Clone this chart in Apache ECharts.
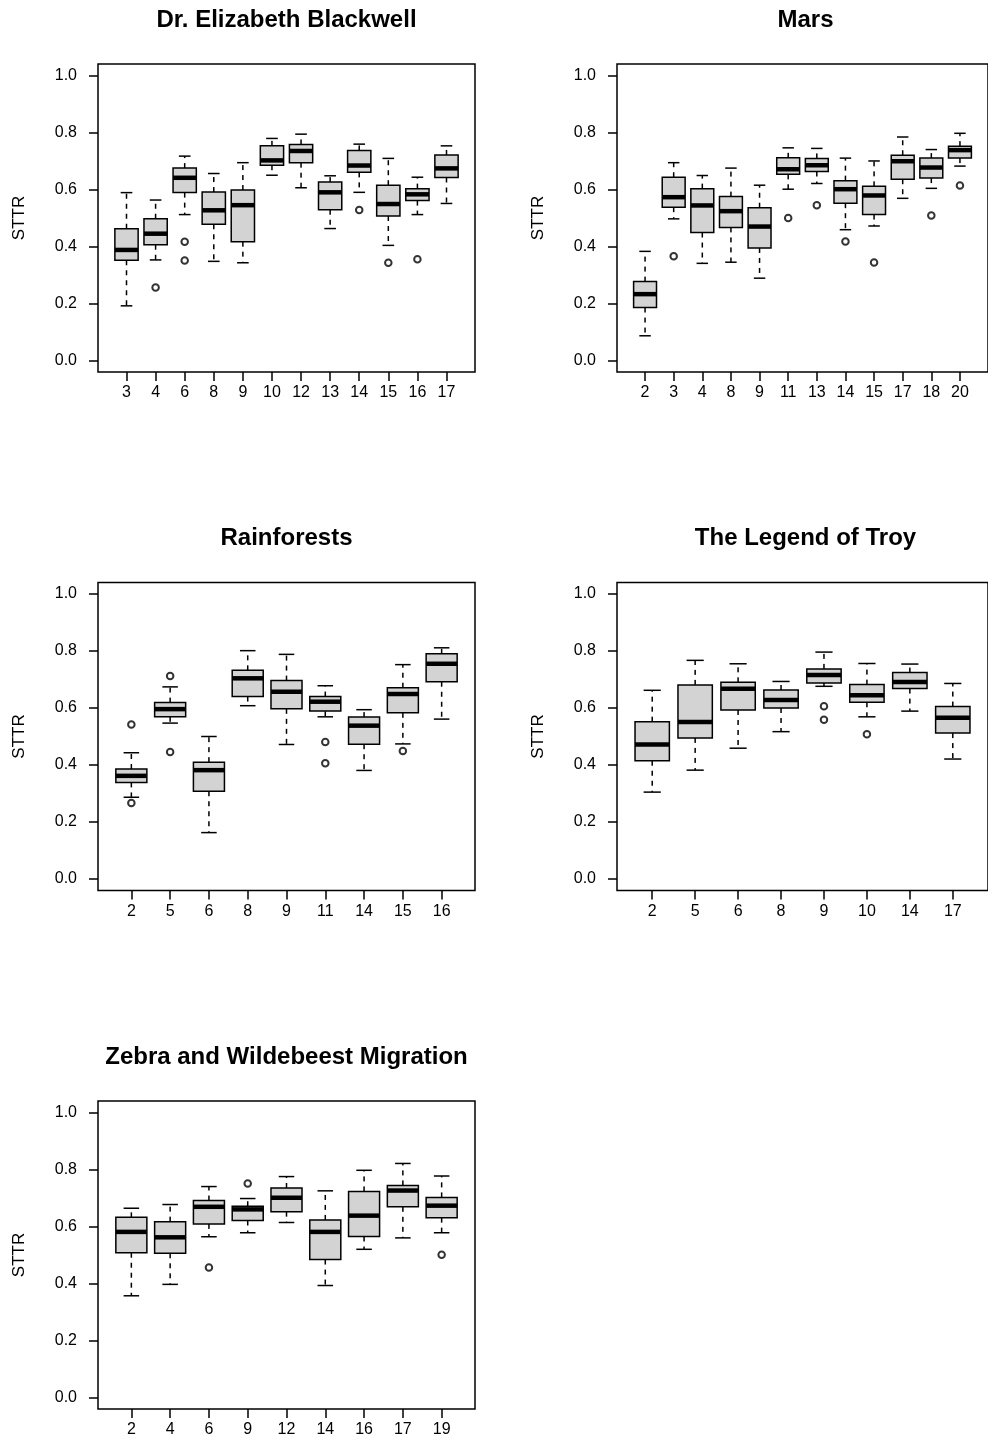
<!DOCTYPE html>
<html>
<head>
<meta charset="utf-8">
<script src="https://cdn.jsdelivr.net/npm/echarts@6/dist/echarts.min.js"></script>
<style>
html,body{margin:0;padding:0;background:#fff;}
#chart{width:988px;height:1456px;}
</style>
</head>
<body>
<div id="chart"></div>
<script>
// ---------- DATA ----------
const yTicks = [0, 0.2, 0.4, 0.6, 0.8, 1.0];
const yName = 'STTR';

// stats rows: [lower whisker, Q1, median, Q3, upper whisker]
// outliers: [category position (1-based), value]
const blackwellTitle = 'Dr. Elizabeth Blackwell';
const blackwellCats = ['3','4','6','8','9','10','12','13','14','15','16','17'];
const blackwellStats = [
  [0.192,0.352,0.388,0.462,0.589],
  [0.353,0.406,0.445,0.497,0.563],
  [0.512,0.589,0.641,0.675,0.717],
  [0.348,0.478,0.527,0.591,0.656],
  [0.343,0.417,0.545,0.598,0.694],
  [0.650,0.685,0.702,0.753,0.779],
  [0.606,0.694,0.735,0.758,0.794],
  [0.463,0.529,0.590,0.626,0.648],
  [0.590,0.660,0.684,0.737,0.759],
  [0.404,0.507,0.549,0.615,0.709],
  [0.512,0.561,0.583,0.603,0.643],
  [0.551,0.642,0.674,0.721,0.753]
];
const blackwellOutliers = [[2,0.256],[3,0.417],[3,0.351],[9,0.528],[10,0.343],[11,0.355]];

const marsTitle = 'Mars';
const marsCats = ['2','3','4','8','9','11','13','14','15','17','18','20'];
const marsStats = [
  [0.087,0.186,0.233,0.277,0.383],
  [0.497,0.538,0.573,0.643,0.694],
  [0.341,0.449,0.544,0.603,0.649],
  [0.345,0.467,0.524,0.575,0.675],
  [0.289,0.395,0.470,0.536,0.615],
  [0.601,0.653,0.671,0.711,0.746],
  [0.621,0.663,0.685,0.709,0.744],
  [0.459,0.552,0.601,0.631,0.710],
  [0.472,0.512,0.579,0.611,0.700],
  [0.569,0.636,0.699,0.720,0.784],
  [0.604,0.640,0.677,0.710,0.740],
  [0.682,0.710,0.738,0.752,0.797]
];
const marsOutliers = [[2,0.366],[6,0.500],[7,0.545],[8,0.418],[9,0.344],[11,0.509],[12,0.614]];

const rainTitle = 'Rainforests';
const rainCats = ['2','5','6','8','9','11','14','15','16'];
const rainStats = [
  [0.287,0.339,0.362,0.386,0.443],
  [0.547,0.569,0.596,0.619,0.674],
  [0.163,0.308,0.382,0.410,0.500],
  [0.608,0.640,0.704,0.732,0.801],
  [0.472,0.597,0.657,0.696,0.788],
  [0.569,0.589,0.622,0.640,0.678],
  [0.381,0.473,0.538,0.568,0.594],
  [0.474,0.583,0.649,0.671,0.752],
  [0.561,0.692,0.755,0.790,0.811]
];
const rainOutliers = [[1,0.542],[1,0.267],[2,0.712],[2,0.446],[6,0.481],[6,0.406],[8,0.449]];

const troyTitle = 'The Legend of Troy';
const troyCats = ['2','5','6','8','9','10','14','17'];
const troyStats = [
  [0.305,0.415,0.472,0.552,0.662],
  [0.382,0.495,0.551,0.681,0.767],
  [0.459,0.593,0.667,0.690,0.755],
  [0.517,0.600,0.628,0.663,0.693],
  [0.676,0.688,0.716,0.737,0.796],
  [0.569,0.620,0.645,0.682,0.756],
  [0.589,0.668,0.691,0.724,0.754],
  [0.421,0.512,0.566,0.605,0.686]
];
const troyOutliers = [[5,0.606],[5,0.559],[6,0.508]];

const zebraTitle = 'Zebra and Wildebeest Migration';
const zebraCats = ['2','4','6','9','12','14','16','17','19'];
const zebraStats = [
  [0.357,0.508,0.581,0.632,0.664],
  [0.397,0.506,0.562,0.617,0.677],
  [0.564,0.609,0.669,0.691,0.740],
  [0.578,0.621,0.660,0.671,0.698],
  [0.614,0.652,0.701,0.735,0.775],
  [0.393,0.484,0.581,0.623,0.725],
  [0.520,0.565,0.638,0.723,0.797],
  [0.560,0.669,0.726,0.744,0.821],
  [0.578,0.631,0.673,0.702,0.777]
];
const zebraOutliers = [[3,0.456],[4,0.751],[9,0.501]];

// ---------- LAYOUT / STYLE ----------
const FONT = '"Liberation Sans", Arial, Helvetica, sans-serif';
const panels = [
  {title: blackwellTitle, cats: blackwellCats, stats: blackwellStats, out: blackwellOutliers, left: 98,  top: 64},
  {title: marsTitle,      cats: marsCats,      stats: marsStats,      out: marsOutliers,      left: 617, top: 64},
  {title: rainTitle,      cats: rainCats,      stats: rainStats,      out: rainOutliers,      left: 98,  top: 582.5},
  {title: troyTitle,      cats: troyCats,      stats: troyStats,      out: troyOutliers,      left: 617, top: 582.5},
  {title: zebraTitle,     cats: zebraCats,     stats: zebraStats,     out: zebraOutliers,     left: 98,  top: 1101}
];
const GW = 377, GH = 308;

function renderBox(params, api) {
  const x = api.value(0);
  const lo = api.value(1), q1 = api.value(2), md = api.value(3), q3 = api.value(4), hi = api.value(5);
  const bL = api.coord([x - 0.4, md])[0];
  const bR = api.coord([x + 0.4, md])[0];
  const sL = api.coord([x - 0.2, md])[0];
  const sR = api.coord([x + 0.2, md])[0];
  const cx = api.coord([x, md])[0];
  const yLo = api.coord([x, lo])[1], yQ1 = api.coord([x, q1])[1], yMd = api.coord([x, md])[1];
  const yQ3 = api.coord([x, q3])[1], yHi = api.coord([x, hi])[1];
  const solid = {stroke: '#000', lineWidth: 1.5, fill: null};
  const dashed = {stroke: '#000', lineWidth: 1.5, lineDash: [5, 5], fill: null};
  return {
    type: 'group',
    children: [
      {type: 'line', shape: {x1: cx, y1: yQ3, x2: cx, y2: yHi}, style: dashed},
      {type: 'line', shape: {x1: cx, y1: yQ1, x2: cx, y2: yLo}, style: dashed},
      {type: 'line', shape: {x1: sL, y1: yHi, x2: sR, y2: yHi}, style: solid},
      {type: 'line', shape: {x1: sL, y1: yLo, x2: sR, y2: yLo}, style: solid},
      {type: 'rect', shape: {x: bL, y: yQ3, width: bR - bL, height: yQ1 - yQ3},
        style: {fill: '#d3d3d3', stroke: '#000', lineWidth: 1.5}},
      {type: 'line', shape: {x1: bL, y1: yMd, x2: bR, y2: yMd},
        style: {stroke: '#000', lineWidth: 4.5, lineCap: 'butt'}}
    ]
  };
}

const option = {
  animation: false,
  backgroundColor: '#fff',
  textStyle: {fontFamily: FONT, color: '#000'},
  grid: [], xAxis: [], yAxis: [], series: [], graphic: []
};

panels.forEach((p, k) => {
  const n = p.cats.length;
  const xPos = p.cats.map((c, i) => i + 1);
  option.grid.push({
    left: p.left, top: p.top, width: GW, height: GH,
    show: true, borderColor: '#000', borderWidth: 1.5, backgroundColor: 'transparent'
  });
  option.xAxis.push({
    type: 'value', gridIndex: k, position: 'bottom',
    min: 0.5 - 0.04 * n, max: n + 0.5 + 0.04 * n,
    splitLine: {show: false},
    axisLine: {show: false, onZero: false},
    axisTick: {show: true, inside: false, length: 9, lineStyle: {color: '#000', width: 1.5}, customValues: xPos},
    axisLabel: {show: true, margin: 13, fontSize: 16, color: '#000', fontFamily: FONT,
      customValues: xPos, formatter: v => p.cats[Math.round(v) - 1]}
  });
  option.yAxis.push({
    type: 'value', gridIndex: k, position: 'left',
    min: -0.04, max: 1.04,
    name: yName, nameLocation: 'middle', nameGap: 70,
    nameTextStyle: {fontSize: 17, color: '#000', fontFamily: FONT},
    splitLine: {show: false},
    axisLine: {show: false, onZero: false},
    axisTick: {show: true, inside: false, length: 9, lineStyle: {color: '#000', width: 1.5}, customValues: yTicks},
    axisLabel: {show: true, margin: 21, fontSize: 16, color: '#000', fontFamily: FONT,
      customValues: yTicks, formatter: v => v.toFixed(1)}
  });
  option.series.push({
    type: 'custom', xAxisIndex: k, yAxisIndex: k,
    renderItem: renderBox,
    encode: {x: 0, y: [1, 2, 3, 4, 5]},
    data: p.stats.map((s, i) => [i + 1].concat(s)),
    clip: false, silent: true
  });
  option.series.push({
    type: 'scatter', xAxisIndex: k, yAxisIndex: k,
    symbol: 'emptyCircle', symbolSize: 6.5,
    itemStyle: {color: '#000', borderColor: '#000', borderWidth: 1.5},
    data: p.out, silent: true, z: 5
  });
  option.graphic.push({
    type: 'text', silent: true,
    x: p.left + GW / 2, y: p.top - 44,
    style: {text: p.title, fontSize: 24, fontWeight: 'bold', fontFamily: FONT, fill: '#000',
      textAlign: 'center', textVerticalAlign: 'middle'}
  });
});

const chart = echarts.init(document.getElementById('chart'), null, {renderer: 'canvas'});
chart.setOption(option);
</script>
</body>
</html>
